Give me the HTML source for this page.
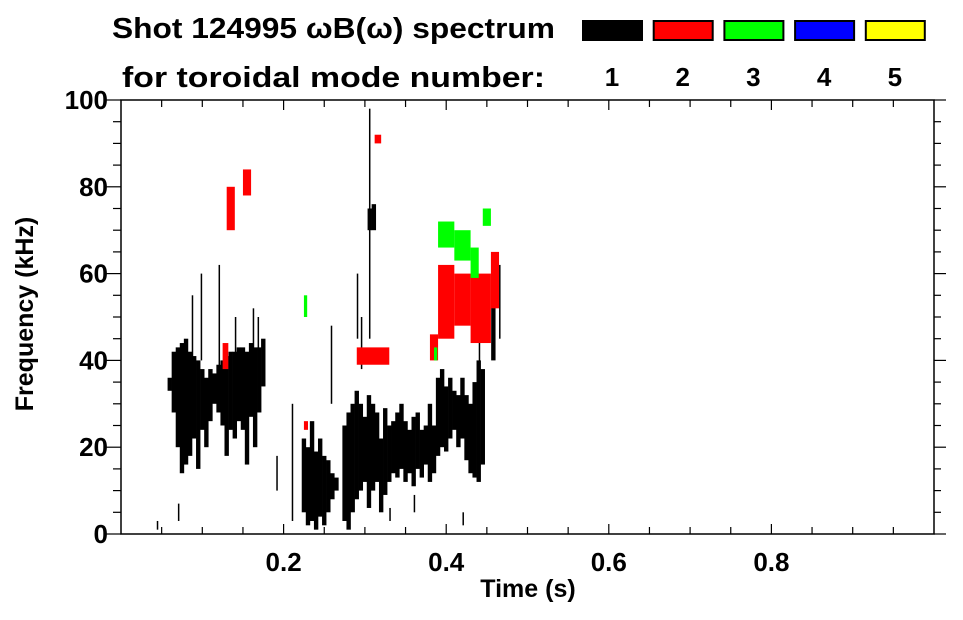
<!DOCTYPE html>
<html><head><meta charset="utf-8"><style>
body{margin:0;background:#fff;width:963px;height:615px;overflow:hidden}
text{font-family:"Liberation Sans",sans-serif;font-weight:bold;fill:#000}
</style></head><body>
<svg id="c" width="963" height="615" xmlns="http://www.w3.org/2000/svg">
<text x="112" y="38" font-size="29" textLength="443" lengthAdjust="spacingAndGlyphs">Shot 124995 ωB(ω) spectrum</text>
<text x="122" y="87" font-size="29" textLength="423" lengthAdjust="spacingAndGlyphs">for toroidal mode number:</text>
<g id="plot"></g>
<g id="axes"></g>
<g id="legend"></g>
<text x="528" y="597" font-size="25" text-anchor="middle">Time (s)</text>
<text transform="translate(33,314) rotate(-90)" font-size="25" text-anchor="middle">Frequency (kHz)</text>
</svg>
<script>
// black (n=1) columns: time, low freq, high freq
const bT=[0.060,0.065,0.070,0.075,0.080,0.085,0.090,0.095,0.100,0.105,0.110,0.115,0.120,0.125,0.130,0.135,0.140,0.145,0.150,0.155,0.160,0.165,0.170,0.175,
0.225,0.230,0.235,0.240,0.245,0.250,0.255,0.260,0.265,
0.275,0.280,0.285,0.290,0.295,0.300,0.305,0.310,0.315,0.320,0.325,0.330,0.335,0.340,0.345,0.350,0.355,0.360,0.365,0.370,0.375,0.380,0.385,0.390,0.395,0.400,0.405,0.410,0.415,0.420,0.425,0.430,0.435,0.440,0.445,0.458,0.306,0.311];
const bLo=[33,28,20,14,16,18,22,15,24,20,26,30,28,25,18,24,22,26,24,16,27,20,28,34,
5,2,3,1,4,2,5,8,10,
3,1,5,8,10,12,6,10,12,5,9,12,14,13,15,12,14,11,15,13,16,12,14,18,20,19,22,24,20,22,17,14,13,12,16,40,70,70];
const bHi=[36,42,43,44,45,42,41,40,38,36,38,37,39,40,41,42,42,43,43,42,44,43,43,45,
22,20,26,19,22,18,17,14,13,
25,28,30,33,30,27,32,30,28,22,29,25,26,28,30,26,24,27,28,24,25,30,25,36,38,34,36,33,32,36,32,30,35,40,38,62,75,76];
// thin streaks (mode 1)
const sT=[0.087,0.098,0.120,0.140,0.162,0.168,0.191,0.210,0.258,0.305,0.044,0.070,0.290,0.295,0.440,0.465,0.420,0.360,0.330];
const sLo=[40,40,38,38,40,40,10,3,30,45,1,3,45,38,35,45,2,5,3];
const sHi=[55,60,62,50,52,50,18,30,48,98,3,7,60,50,45,62,5,9,6];
// mode 2 (red) patches: t start, t end, low, high
const rT0=[0.290,0.390,0.410,0.430,0.455,0.150,0.130,0.312,0.380,0.225,0.125];
const rT1=[0.330,0.410,0.430,0.455,0.465,0.160,0.140,0.320,0.390,0.230,0.132];
const rLo=[39,45,48,44,52,78,70,90,40,24,38];
const rHi=[43,62,60,60,65,84,80,92,46,26,44];
// mode 3 (green) patches
const gT0=[0.390,0.410,0.430,0.445,0.225,0.385];
const gT1=[0.410,0.430,0.440,0.455,0.229,0.389];
const gLo=[66,63,59,71,50,40];
const gHi=[72,70,66,75,55,43];
const xTicks=[0.2,0.4,0.6,0.8];
const yTicks=[0,20,40,60,80,100];
const legendLabels=["1","2","3","4","5"];
const legendColors=["#000","#f00","#0f0","#00f","#ff0"];

const L=121,R=934,T=100,B=534;
const X=t=>L+t*(R-L)/1.0;
const Y=f=>B-f*(B-T)/100;
const NS="http://www.w3.org/2000/svg";
function mk(tag,attrs,parent){const e=document.createElementNS(NS,tag);for(const k in attrs)e.setAttribute(k,attrs[k]);parent.appendChild(e);return e;}
const plot=document.getElementById('plot'),axes=document.getElementById('axes'),leg=document.getElementById('legend');
bT.forEach((t,i)=>{
  const r=mk('rect',{x:X(t-0.0027),y:Y(bHi[i]),width:X(0.0054)-X(0),height:Y(bLo[i])-Y(bHi[i]),fill:'#000'},plot);
  
  
});
sT.forEach((t,i)=>{
  const r=mk('rect',{x:X(t),y:Y(sHi[i]),width:1.5,height:Y(sLo[i])-Y(sHi[i]),fill:'#000'},plot);
  
  
});
function patches(a0,a1,lo,hi,col,name){a0.forEach((t,i)=>{
  const r=mk('rect',{x:X(t),y:Y(hi[i]),width:X(a1[i])-X(t),height:Y(lo[i])-Y(hi[i]),fill:col},plot);
  
  
});}
patches(rT0,rT1,rLo,rHi,'#f00','mode2-patch');
patches(gT0,gT1,gLo,gHi,'#0f0','mode3-patch');
// axes frame
mk('rect',{x:L,y:T,width:R-L,height:B-T,fill:'none',stroke:'#000','stroke-width':1.5},axes);
for(let v=0.05;v<1.0;v+=0.05){
  const major=Math.abs(v*5-Math.round(v*5))<1e-6;const len=major?10:7;const x=X(v);
  mk('line',{x1:x,x2:x,y1:B,y2:B-len,stroke:'#000','stroke-width':1.2},axes);
  mk('line',{x1:x,x2:x,y1:T,y2:T+len,stroke:'#000','stroke-width':1.2},axes);
}
for(let f=0;f<=100;f+=5){
  const major=f%20===0;const y=Y(f);
  mk('line',{x1:L-(major?16:8),x2:L,y1:y,y2:y,stroke:'#000','stroke-width':1.2},axes);
  mk('line',{x1:R,x2:R+(major?12:7),y1:y,y2:y,stroke:'#000','stroke-width':1.2},axes);
}
xTicks.forEach(v=>{const t=mk('text',{x:X(v),y:571,'font-size':26,'text-anchor':'middle'},axes);t.textContent=v.toFixed(1);
  
  });
yTicks.forEach(v=>{const t=mk('text',{x:108,y:Y(v)+9,'font-size':26,'text-anchor':'end'},axes);t.textContent=v;
  
  });
legendLabels.forEach((s,i)=>{
  const x=582+i*70.7;
  const r=mk('rect',{x:x+1,y:21,width:59,height:19,fill:legendColors[i],stroke:'#000','stroke-width':2},leg);
  
  
  const t=mk('text',{x:x+30,y:86,'font-size':26,'text-anchor':'middle'},leg);t.textContent=s;
  
  
});
</script>
</body></html>
